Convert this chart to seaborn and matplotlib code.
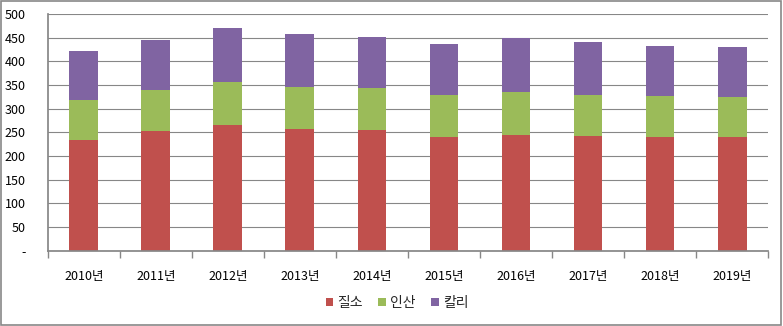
import matplotlib
matplotlib.use("Agg")
import matplotlib.pyplot as plt
import seaborn as sns
import pandas as pd
import numpy as np
from matplotlib.patches import Patch, Rectangle

years = ["2010년", "2011년", "2012년", "2013년", "2014년",
         "2015년", "2016년", "2017년", "2018년", "2019년"]
nitrogen = [234, 253, 266, 257, 255, 240, 245, 243, 240, 240]   # 질소
phosphate = [85, 87, 91, 89, 89, 89, 91, 86, 87, 85]            # 인산
potash = [103, 106, 114, 112, 108, 108, 114, 112, 106, 106]     # 칼리
series_names = ["질소", "인산", "칼리"]
colors = ["#C0504D", "#9BBB59", "#8064A2"]
yticks = [0, 50, 100, 150, 200, 250, 300, 350, 400, 450, 500]

sns.set_theme(style="white")
plt.rcParams["font.family"] = ["Noto Sans CJK KR", "DejaVu Sans"]

df = pd.DataFrame({"year": years, "n": nitrogen, "p": phosphate, "k": potash})
df["np"] = df["n"] + df["p"]
df["total"] = df["np"] + df["k"]

fig = plt.figure(figsize=(7.83, 3.26), dpi=100)
ax = fig.add_axes([0.061, 0.231, 0.920, 0.726])

# stacked bars drawn as cumulative layers, tallest first
for col, c in zip(["total", "np", "n"], colors[::-1]):
    sns.barplot(data=df, x="year", y=col, color=c, width=0.4,
                saturation=1, ax=ax, errorbar=None)
for p in ax.patches:
    p.set_edgecolor("none")

ax.set_ylim(0, 500)
ax.set_xlim(-0.5, len(years) - 0.5)
ax.set_yticks(yticks)
ax.set_yticklabels(["-" if v == 0 else str(v) for v in yticks])
ax.set_xlabel("")
ax.set_ylabel("")
ax.yaxis.grid(True, color="#878787", linewidth=0.8)
ax.set_axisbelow(True)

for s in ["top", "right"]:
    ax.spines[s].set_visible(False)
ax.spines["left"].set_color("#878787")
ax.spines["bottom"].set_color("#878787")

# category-boundary tick marks beneath the x axis
ax.set_xticks(np.arange(-0.5, len(years), 1.0), minor=True)
ax.tick_params(axis="x", which="minor", length=5, color="#878787",
               bottom=True, direction="out")
ax.tick_params(axis="x", which="major", length=0, labelsize=9, pad=14,
               colors="black")
ax.tick_params(axis="y", which="major", length=4, labelsize=9, pad=12,
               colors="black", left=False)

handles = [Patch(facecolor=c, edgecolor="none") for c in colors]
fig.legend(handles, series_names, loc="center", bbox_to_anchor=(0.507, 0.07),
           ncol=3, frameon=False, fontsize=10, handlelength=0.55,
           handleheight=0.55, handletextpad=0.3, columnspacing=1.1)

# outer chart border
fig.patches.append(Rectangle((0.001, 0.002), 0.997, 0.995,
                             transform=fig.transFigure, fill=False,
                             edgecolor="#878787", linewidth=1.2))

fig.savefig("out.png", dpi=100)
